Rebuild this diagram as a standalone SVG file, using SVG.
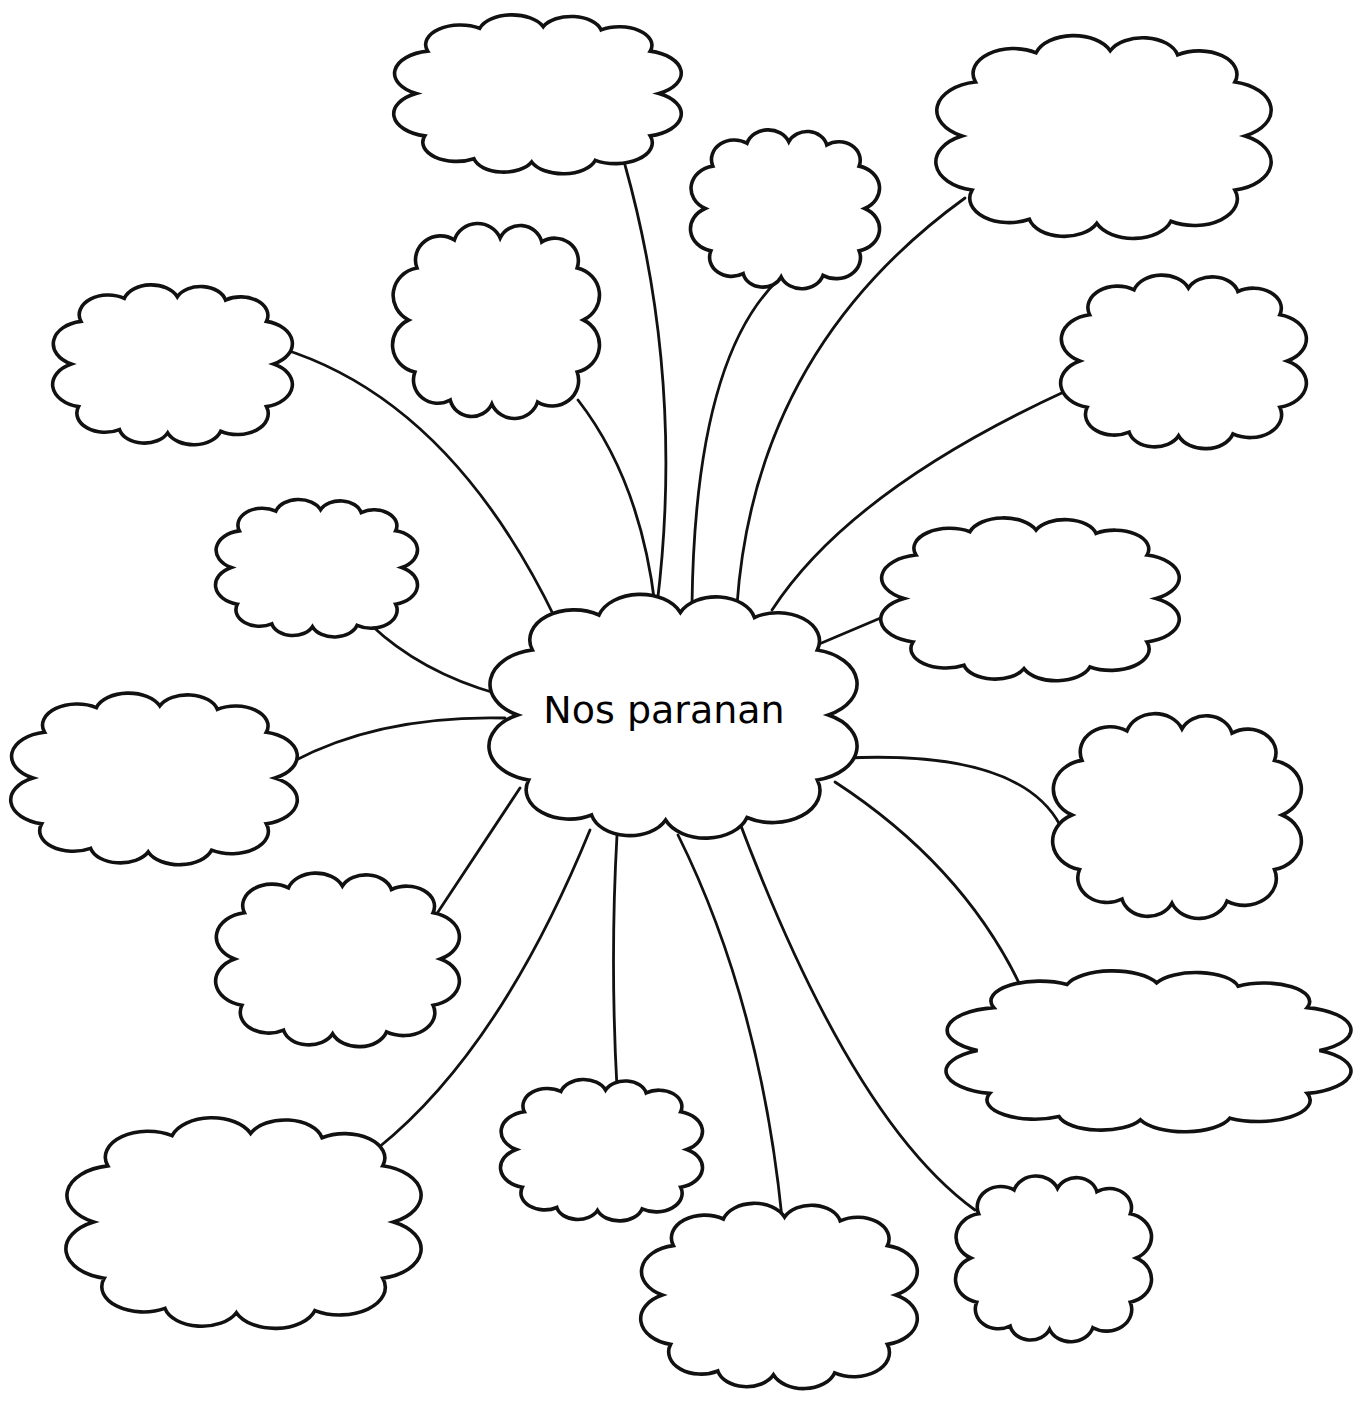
<svg xmlns="http://www.w3.org/2000/svg" xmlns:xlink="http://www.w3.org/1999/xlink" width="1364" height="1403" viewBox="0 0 1364 1403">
<style>
.cloud{fill:#fff;stroke:#111;stroke-width:3.6;stroke-linejoin:miter}
.link{fill:none;stroke:#111;stroke-width:2.8;stroke-linecap:round}
.lbl{font-family:"DejaVu Sans","Liberation Sans",sans-serif;font-size:38px;fill:#000}
</style>
<defs>
<path id="cl" vector-effect="non-scaling-stroke" d="M12,24 A12,12 0 0 1 30,10 A11.7,11.7 0 0 1 52,9 A10.6,10.6 0 0 1 72,11 A11.3,11.3 0 0 1 89,24 A13.9,13.9 0 0 1 92,50 A13.9,13.9 0 0 1 89,76 A12.8,12.8 0 0 1 70,91 A11.7,11.7 0 0 1 48,92 A10.6,10.6 0 0 1 28,90 A11.7,11.7 0 0 1 11,76 A13.9,13.9 0 0 1 8,50 A13.9,13.9 0 0 1 12,24 Z"/>
</defs>
<rect width="1364" height="1403" fill="#fff"/>
<g id="connectors">
<path class="link" d="M625,165 Q685,380 657,605"/>
<path class="link" d="M692,605 Q695,360 778,280"/>
<path class="link" d="M737,605 Q755,350 965,198"/>
<path class="link" d="M578,400 Q640,480 655,605"/>
<path class="link" d="M280,348 Q450,400 556,620"/>
<path class="link" d="M772,610 Q850,490 1068,390"/>
<path class="link" d="M370,624 Q420,672 498,694"/>
<path class="link" d="M805,650 L890,614"/>
<path class="link" d="M292,762 Q380,715 505,718"/>
<path class="link" d="M845,758 Q1020,750 1060,825"/>
<path class="link" d="M438,912 L520,788"/>
<path class="link" d="M835,782 Q970,870 1027,1000"/>
<path class="link" d="M617,835 Q610,960 617,1088"/>
<path class="link" d="M590,830 Q500,1050 378,1148"/>
<path class="link" d="M678,835 Q760,1000 782,1218"/>
<path class="link" d="M735,810 Q850,1120 975,1210"/>
</g>
<g id="center"><use href="#cl" class="cloud" transform="translate(488,590) scale(3.7,2.5)"/><text class="lbl" x="664" y="723" text-anchor="middle">Nos paranan</text></g>
<g id="n1"><use href="#cl" class="cloud" transform="translate(393,12) scale(2.89,1.63)"/></g>
<g id="n2"><use href="#cl" class="cloud" transform="translate(690,127) scale(1.9,1.63)"/></g>
<g id="n3"><use href="#cl" class="cloud" transform="translate(935,32) scale(3.37,2.08)"/></g>
<g id="n4"><use href="#cl" class="cloud" transform="translate(392,220) scale(2.08,2.0)"/></g>
<g id="n5"><use href="#cl" class="cloud" transform="translate(52,282) scale(2.41,1.64)"/></g>
<g id="n6"><use href="#cl" class="cloud" transform="translate(1060,272) scale(2.47,1.78)"/></g>
<g id="n7"><use href="#cl" class="cloud" transform="translate(215,497) scale(2.03,1.41)"/></g>
<g id="n8"><use href="#cl" class="cloud" transform="translate(880,515) scale(3.0,1.67)"/></g>
<g id="n9"><use href="#cl" class="cloud" transform="translate(10,690) scale(2.88,1.76)"/></g>
<g id="n10"><use href="#cl" class="cloud" transform="translate(1052,710) scale(2.5,2.1)"/></g>
<g id="n11"><use href="#cl" class="cloud" transform="translate(215,870) scale(2.45,1.78)"/></g>
<g id="n12"><use href="#cl" class="cloud" transform="translate(945,968) scale(4.07,1.65)"/></g>
<g id="n13"><use href="#cl" class="cloud" transform="translate(500,1077) scale(2.03,1.45)"/></g>
<g id="n14"><use href="#cl" class="cloud" transform="translate(65,1114) scale(3.57,2.16)"/></g>
<g id="n15"><use href="#cl" class="cloud" transform="translate(640,1200) scale(2.78,1.9)"/></g>
<g id="n16"><use href="#cl" class="cloud" transform="translate(955,1173) scale(1.97,1.7)"/></g>
</svg>
